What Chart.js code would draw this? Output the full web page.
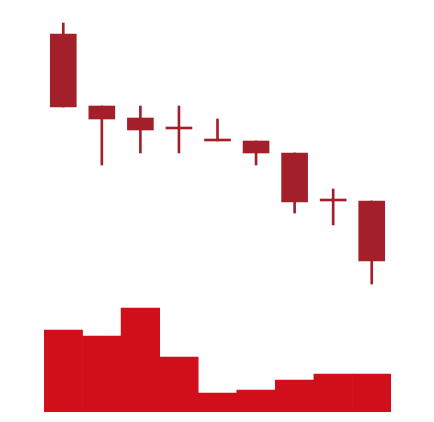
<!DOCTYPE html>
<html>
<head>
<meta charset="utf-8">
<script src="https://cdn.jsdelivr.net/npm/chart.js@4/dist/chart.umd.min.js"></script>
<style>
html,body{margin:0;padding:0;background:#fff;}
#wrap{width:434px;height:422px;position:relative;}
</style>
</head>
<body>
<div id="wrap"><canvas id="c"></canvas></div>
<script>
const categories = ['1','2','3','4','5','6','7','8','9'];
const openVals  = [37.8, 30.6, 29.4, 28.3, 27.1, 27.1, 25.9, 21.1, 21.1];
const highVals  = [38.9, 30.6, 30.6, 30.6, 29.3, 27.1, 25.9, 22.3, 21.1];
const lowVals   = [30.5, 24.7, 25.9, 25.9, 27.1, 24.7, 19.9, 18.7, 12.8];
const closeVals = [30.5, 29.3, 28.2, 28.3, 27.1, 25.9, 21.0, 21.1, 15.1];
const volumeVals = [8200, 7600, 10400, 5500, 1900, 2200, 3200, 3800, 3800];

const candleColor = '#a31f29';
const volumeColor = '#d10f1a';

new Chart(document.getElementById('c'), {
  type: 'bar',
  data: {
    labels: categories,
    datasets: [
      {
        label: 'body',
        data: categories.map((_, i) => [openVals[i], closeVals[i]]),
        backgroundColor: candleColor,
        barThickness: 26,
        minBarLength: 2,
        grouped: false,
        yAxisID: 'y',
        order: 1
      },
      {
        label: 'wick',
        data: categories.map((_, i) => [lowVals[i], highVals[i]]),
        backgroundColor: candleColor,
        barThickness: 2,
        grouped: false,
        yAxisID: 'y',
        order: 2
      },
      {
        label: 'volume',
        data: volumeVals,
        backgroundColor: volumeColor,
        categoryPercentage: 1,
        barPercentage: 1,
        grouped: false,
        yAxisID: 'v',
        order: 3
      }
    ]
  },
  options: {
    responsive: true,
    maintainAspectRatio: false,
    animation: false,
    layout: { padding: { left: 44, right: 43, top: 10, bottom: 10 } },
    plugins: { legend: { display: false }, tooltip: { enabled: false } },
    scales: {
      x: { display: false, offset: true, grid: { display: false } },
      y: { display: false, min: 0, max: 40.2 },
      v: { display: false, min: 0, max: 40200 }
    }
  }
});
</script>
</body>
</html>
